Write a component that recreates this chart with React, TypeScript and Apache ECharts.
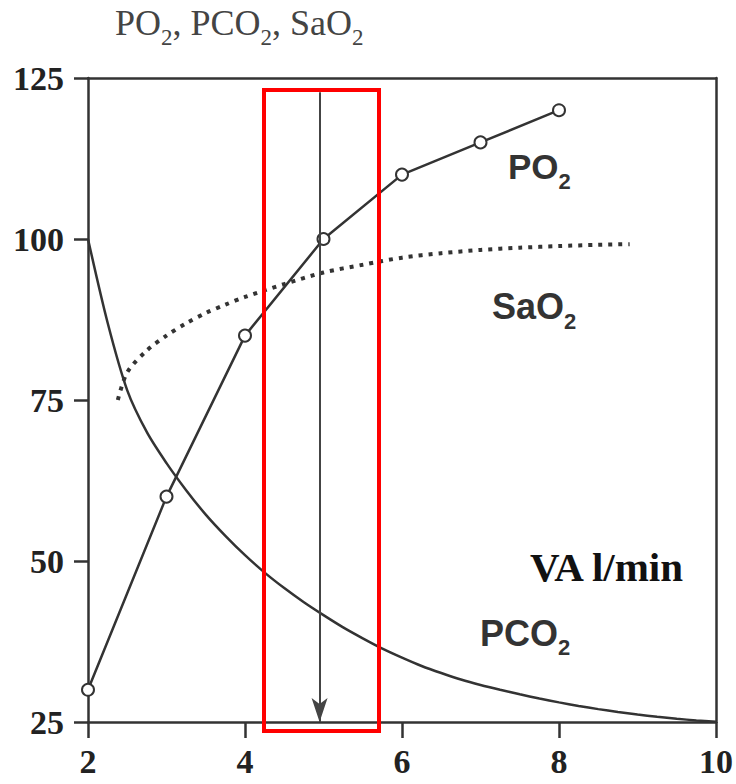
import React, { useEffect, useRef } from "react";
import * as echarts from "echarts";

// ---- data ----
const xTicks = [2, 4, 6, 8, 10];
const yTicks = [25, 50, 75, 100, 125];
const po2: [number, number][] = [
  [2, 30], [3, 60], [4, 85], [5, 100], [6, 110], [7, 115], [8, 120],
];
const pco2: [number, number][] = [
  [2, 100], [2.25, 87], [2.5, 76.5], [2.75, 70], [3, 65.2], [3.25, 61], [3.5, 57.2],
  [3.75, 53.9], [4, 50.9], [4.25, 48.2], [4.5, 45.8], [4.75, 43.6], [5, 41.6],
  [5.25, 39.7], [5.5, 38], [5.75, 36.4], [6, 35], [6.25, 33.7], [6.5, 32.6],
  [6.75, 31.6], [7, 30.75], [7.25, 30], [7.5, 29.3], [7.75, 28.65], [8, 28.05],
  [8.25, 27.5], [8.5, 27], [8.75, 26.55], [9, 26.15], [9.25, 25.8], [9.5, 25.5],
  [9.75, 25.25], [10, 25.05],
];
const sao2: [number, number][] = [
  [2.38, 75], [2.5, 79.3], [2.75, 82.7], [3, 85], [3.25, 86.9], [3.5, 88.5],
  [3.75, 89.8], [4, 91], [4.5, 93], [5, 94.8], [5.5, 96], [6, 97.1], [6.5, 97.8],
  [7, 98.3], [7.5, 98.65], [8, 98.9], [8.5, 99.1], [8.9, 99.2],
];
const arrowX = 4.95;
const arrowTop = 122.8;
const arrowBottom = 25;

const INK = "#333";
const SERIF = "'Liberation Serif', 'Times New Roman', serif";
const SANS = "'Liberation Sans', Arial, sans-serif";

function subLabel(
  x: number,
  y: number,
  main: string,
  family: string,
  size: number,
  weight: string,
  subSize: number,
  subPad: number,
  color: string
) {
  return {
    type: "text",
    x,
    y,
    z: 50,
    style: {
      text: `{m|${main}}{s|2}`,
      verticalAlign: "middle",
      align: "left",
      rich: {
        m: { fontSize: size, fontFamily: family, fontWeight: weight, fill: color, lineHeight: size },
        s: {
          fontSize: subSize,
          fontFamily: family,
          fontWeight: weight,
          fill: color,
          lineHeight: subSize,
          padding: [subPad, 0, 0, 0],
        },
      },
    },
  };
}

function titleLabel(x: number, y: number) {
  const m = { fontSize: 36, fontFamily: SERIF, fill: "#444", lineHeight: 36 };
  const s = { fontSize: 23, fontFamily: SERIF, fill: "#444", lineHeight: 23, padding: [28, 0, 0, 0] };
  return {
    type: "text",
    x,
    y,
    z: 50,
    style: {
      text: "{m|PO}{s|2}{m|, PCO}{s|2}{m|, SaO}{s|2}",
      verticalAlign: "middle",
      rich: { m, s },
    },
  };
}

export default function App() {
  const ref = useRef<HTMLDivElement>(null);
  useEffect(() => {
    if (!ref.current) return;
    const chart = echarts.init(ref.current, null, { renderer: "svg" });
    const axisLineStyle = { color: INK, width: 2.5 };
    chart.setOption({
      animation: false,
      backgroundColor: "#fff",
      grid: { left: 88, right: 20, top: 78, bottom: 62 },
      xAxis: [
        {
          type: "value",
          min: xTicks[0],
          max: xTicks[xTicks.length - 1],
          interval: 2,
          position: "bottom",
          axisLine: { show: true, onZero: false, lineStyle: axisLineStyle },
          axisTick: { show: true, inside: false, length: 16, lineStyle: axisLineStyle },
          axisLabel: {
            fontFamily: SERIF,
            fontWeight: "bold",
            fontSize: 34,
            color: "#222",
            margin: 22,
            showMinLabel: true,
            showMaxLabel: true,
          },
          splitLine: { show: false },
        },
        {
          type: "value",
          min: xTicks[0],
          max: xTicks[xTicks.length - 1],
          position: "top",
          axisLine: { show: true, onZero: false, lineStyle: axisLineStyle },
          axisTick: { show: false },
          axisLabel: { show: false },
          splitLine: { show: false },
        },
      ],
      yAxis: [
        {
          type: "value",
          min: yTicks[0],
          max: yTicks[yTicks.length - 1],
          interval: 25,
          position: "left",
          axisLine: { show: true, onZero: false, lineStyle: axisLineStyle },
          axisTick: { show: true, inside: false, length: 14, lineStyle: axisLineStyle },
          axisLabel: {
            fontFamily: SERIF,
            fontWeight: "bold",
            fontSize: 34,
            color: "#222",
            margin: 24,
          },
          splitLine: { show: false },
        },
        {
          type: "value",
          min: yTicks[0],
          max: yTicks[yTicks.length - 1],
          position: "right",
          axisLine: { show: true, onZero: false, lineStyle: axisLineStyle },
          axisTick: { show: false },
          axisLabel: { show: false },
          splitLine: { show: false },
        },
      ],
      series: [
        {
          name: "PCO2",
          type: "line",
          data: pco2,
          smooth: 0.3,
          showSymbol: false,
          symbol: "none",
          lineStyle: { color: INK, width: 2.5 },
          z: 3,
          markLine: {
            silent: true,
            symbol: ["none", "arrow"],
            symbolSize: [12, 24],
            label: { show: false },
            lineStyle: { color: "#444", width: 2, type: "solid" },
            data: [[{ coord: [arrowX, arrowTop] }, { coord: [arrowX, arrowBottom] }]],
          },
        },
        {
          name: "SaO2",
          type: "line",
          data: sao2,
          smooth: 0.3,
          showSymbol: false,
          symbol: "none",
          lineStyle: { color: INK, width: 4, type: [4, 6] },
          z: 2,
        },
        {
          name: "PO2",
          type: "line",
          data: po2,
          symbol: "emptyCircle",
          symbolSize: 12,
          itemStyle: { color: INK, borderWidth: 2 },
          lineStyle: { color: INK, width: 2.5 },
          z: 4,
        },
      ],
      graphic: [
        titleLabel(115, 23),
        subLabel(508, 166, "PO", SANS, 35, "bold", 22, 30, "#333"),
        subLabel(492, 306, "SaO", SANS, 36, "bold", 22, 30, "#333"),
        subLabel(480, 633, "PCO", SANS, 36, "bold", 22, 28, "#333"),
        {
          type: "text",
          x: 530,
          y: 567,
          z: 50,
          style: {
            text: "VA l/min",
            fontFamily: SERIF,
            fontWeight: "bold",
            fontSize: 41,
            fill: "#111",
            verticalAlign: "middle",
          },
        },
        {
          type: "rect",
          z: 60,
          shape: { x: 264, y: 90, width: 115, height: 641 },
          style: { fill: "none", stroke: "#ff0000", lineWidth: 4 },
        },
      ],
    });
    return () => chart.dispose();
  }, []);
  return (
    <div
      ref={ref}
      style={{ position: "absolute", left: 0, top: 0, width: 736, height: 784, background: "#fff" }}
    />
  );
}
